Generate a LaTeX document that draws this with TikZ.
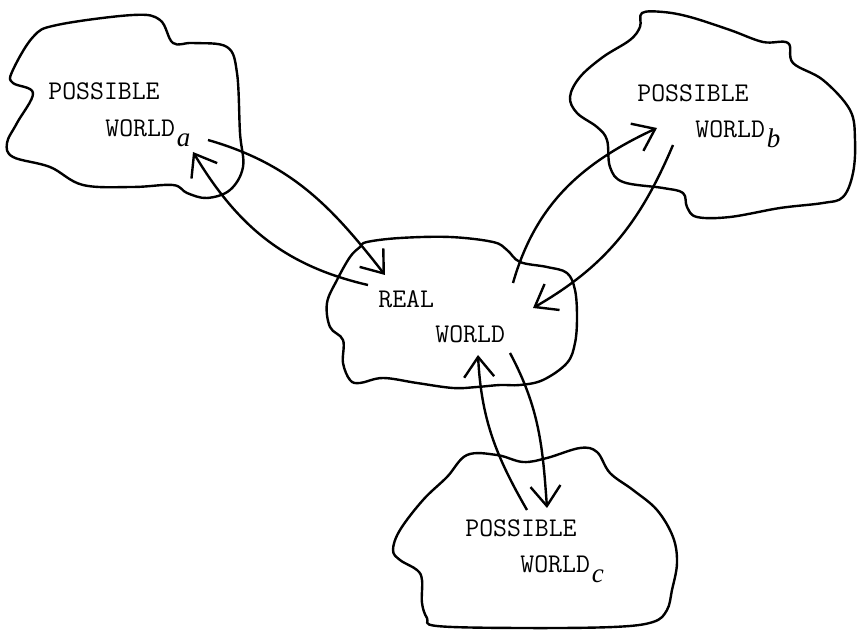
\documentclass[tikz,border=0pt]{standalone}
\usepackage{fontspec}
\setmainfont{Liberation Serif}
\usetikzlibrary{arrows.meta}
\newcommand{\subw}[1]{\kern1pt\raisebox{-5pt}{\rmfamily\itshape #1}}

\begin{document}
\begin{tikzpicture}[x=0.5pt,y=-0.5pt,
    blob/.style={draw,line width=1.2pt,line join=round},
    arr/.style={line width=1.2pt,-{Straight Barb[length=10pt,width=15pt]}},
    every node/.style={inner sep=0pt,anchor=base west,font=\fontsize{13.5}{16}\selectfont\ttfamily}]
  \useasboundingbox (0,0) rectangle (857,630);

  % worlds
  \draw[blob] plot[smooth cycle,tension=0.6] coordinates {(12,72) (33,37) (57,25) (133,15) (160,20) (173,43) (193,43)
    (227,47) (237,73) (240,133) (243,167) (230,190) (207,198) (187,193) (173,185) (133,187) (83,185)
    (50,167) (13,157) (7,143) (17,123) (33,93) (13,83)};
  \draw[blob] plot[smooth cycle,tension=0.6] coordinates {(642,13) (663,12) (690,17) (730,30) (763,42) (788,43) (793,63)
    (823,80) (850,110) (855,140) (853,173) (843,197) (823,203) (780,208) (730,217) (697,217) (687,207)
    (683,193) (663,188) (623,182) (610,167) (607,140) (597,127) (577,113) (570,97) (580,77) (603,57)
    (630,40) (640,27)};
  \draw[blob] plot[smooth cycle,tension=0.6] coordinates {(367,242) (400,238) (450,237) (493,242) (507,250) (520,262)
    (547,267) (567,273) (575,290) (577,317) (575,343) (567,363) (543,380) (520,385) (500,385) (477,387)
    (453,388) (417,383) (383,378) (360,383) (350,380) (343,363) (343,340) (330,327) (327,303) (337,280)
    (350,257) (360,247)};
  \draw[blob] plot[smooth cycle,tension=0.6] coordinates {(467,455) (497,455) (523,462) (547,458) (580,448) (597,452)
    (610,473) (633,490) (657,510) (673,537) (677,563) (672,590) (667,610) (653,622) (613,627) (520,628)
    (437,626) (427,618) (422,603) (422,580) (417,570) (400,560) (393,550) (400,530) (423,500) (447,477)};

  % labels
  \node (posa) at (48,100) {POSSIBLE};
  \node (worlda) at (105,137) {WORLD\subw{a}};
  \node (posb) at (637,102) {POSSIBLE};
  \node (worldb) at (695,138) {WORLD\subw{b}};
  \node (real) at (378,308) {REAL};
  \node (worldr) at (435,343) {WORLD};
  \node (posc) at (465,537) {POSSIBLE};
  \node (worldc) at (520,573) {WORLD\subw{c}};

  % arrow ends
  \coordinate (ra-out) at (368,285);
  \coordinate (a-in) at (193,152);
  \coordinate (a-out) at (208,140);
  \coordinate (ra-in) at (385,275);
  \coordinate (rb-out) at (513,283);
  \coordinate (b-in) at (657,128);
  \coordinate (b-out) at (673,145);
  \coordinate (rb-in) at (533,308);
  \coordinate (rc-out) at (510,353);
  \coordinate (c-in) at (547,508);
  \coordinate (c-out) at (527,510);
  \coordinate (rc-in) at (478,355);

  \draw[arr] (ra-out) to[out=167,in=-59] (a-in);
  \draw[arr] (a-out) to[out=-16,in=128] (ra-in);
  \draw[arr] (rb-out) to[out=74,in=-155] (b-in);
  \draw[arr] (b-out) to[out=-113,in=30] (rb-in);
  \draw[arr] (rc-out) to[out=-62,in=94] (c-in);
  \draw[arr] (c-out) to[out=120,in=-87] (rc-in);
\end{tikzpicture}
\end{document}
